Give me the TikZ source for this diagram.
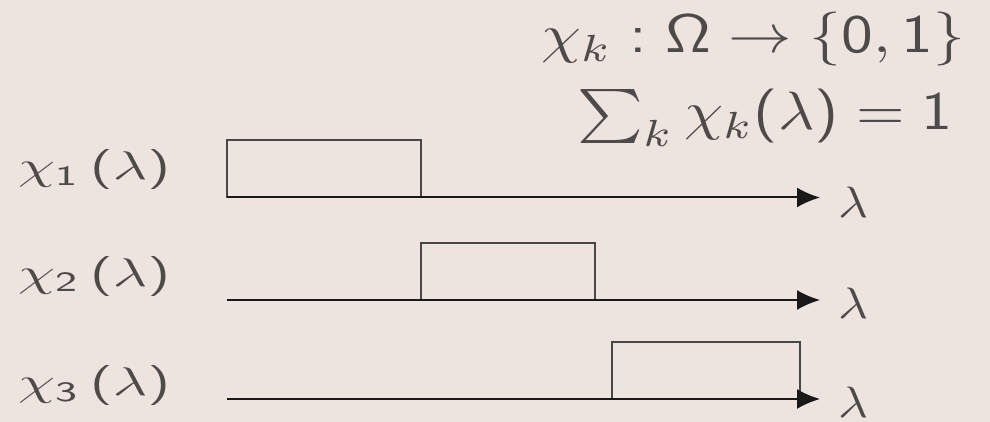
\documentclass[tikz,border=0pt]{standalone}
\usepackage{graphicx}
\usetikzlibrary{arrows.meta}
\SetSymbolFont{operators}{normal}{OT1}{cmss}{m}{n}
\definecolor{paper}{RGB}{237,228,223}
\definecolor{ink}{RGB}{78,74,74}
\tikzset{
  axis/.style={line width=2pt, draw=black!90, -{Latex[length=23pt,width=20pt]}},
  pulse/.style={line width=1.6pt, draw=black!72},
  lab/.style={inner sep=0pt, text=ink, anchor=base west},
}
\newcommand{\wide}[3]{\resizebox{#2}{#1\height}{$#3$}}
\begin{document}
\begin{tikzpicture}[x=1pt,y=-1pt]
\fill[paper] (0,0) rectangle (990,422);
\useasboundingbox (0,0) rectangle (990,422);

\node[lab] (map) at (541,53) {\wide{5.4}{424pt}{\chi_k:\Omega\to\{0,1\}}};
\node[lab] (norm) at (577,130) {\wide{5.4}{376pt}{\sum_k\chi_k(\lambda)=1}};

\node[lab] (chi1) at (18,180) {\wide{4}{152pt}{\chi_{1}\,(\lambda)}};
\node[lab] (chi2) at (18,286) {\wide{4}{152pt}{\chi_{2}\,(\lambda)}};
\node[lab] (chi3) at (18,395) {\wide{4}{152pt}{\chi_{3}\,(\lambda)}};

\draw[pulse] (227,197.5) rectangle (421,140);
\draw[pulse] (421,300) rectangle (595,243);
\draw[pulse] (612,399) rectangle (800,342);

\coordinate (o1) at (227,197.5);
\coordinate (o2) at (227,300);
\coordinate (o3) at (227,399);
\coordinate (e1) at (820,197.5);
\coordinate (e2) at (820,300);
\coordinate (e3) at (820,399);

\draw[axis] (o1) -- (e1);
\draw[axis] (o2) -- (e2);
\draw[axis] (o3) -- (e3);

\node[lab] (lam1) at (838,218) {\wide{4.4}{30pt}{\lambda}};
\node[lab] (lam2) at (838,318) {\wide{4.4}{30pt}{\lambda}};
\node[lab] (lam3) at (838,417) {\wide{4.4}{30pt}{\lambda}};
\end{tikzpicture}
\end{document}
